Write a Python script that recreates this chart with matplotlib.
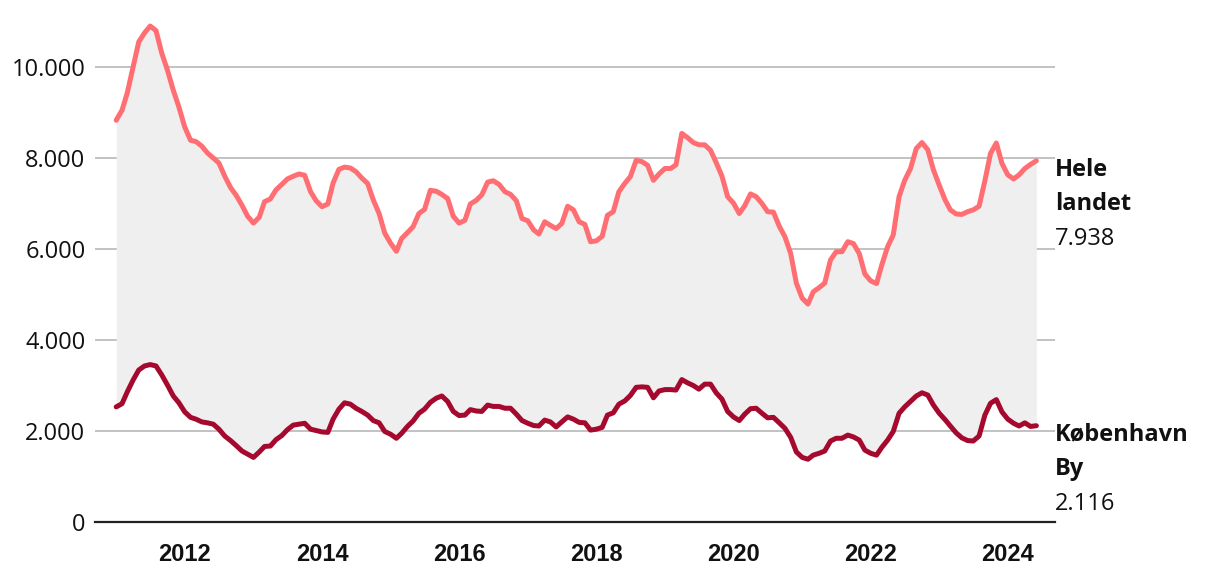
import matplotlib
matplotlib.use("Agg")
import matplotlib.pyplot as plt
import matplotlib.dates as mdates
from matplotlib.ticker import FuncFormatter
import pandas as pd

# monthly values, Jan 2011 - Jun 2024
dates = pd.date_range("2011-01-01", "2024-06-01", freq="MS")

hele_landet = [
    8830, 9050, 9430, 10000, 10550, 10750, 10900, 10800, 10300, 9930, 9490, 9120,
    8680, 8390, 8360, 8260, 8110, 8000, 7890, 7600, 7350, 7180, 6960, 6720,
    6570, 6700, 7040, 7100, 7300, 7420, 7540, 7600, 7650, 7620, 7260, 7060,
    6930, 6990, 7450, 7750, 7800, 7780, 7700, 7560, 7440, 7080, 6780, 6350,
    6130, 5950, 6230, 6360, 6490, 6780, 6870, 7290, 7270, 7200, 7110, 6720,
    6570, 6630, 6990, 7070, 7190, 7470, 7500, 7420, 7260, 7200, 7060, 6670,
    6620, 6420, 6330, 6600, 6520, 6450, 6560, 6940, 6860, 6600, 6540, 6160,
    6180, 6280, 6740, 6820, 7260, 7440, 7590, 7950, 7920, 7840, 7510, 7650,
    7770, 7770, 7850, 8540, 8450, 8340, 8290, 8290, 8170, 7900, 7600, 7150,
    7010, 6780, 6950, 7210, 7150, 7000, 6820, 6810, 6500, 6270, 5900, 5250,
    4920, 4790, 5060, 5150, 5250, 5760, 5940, 5940, 6160, 6120, 5900, 5450,
    5300, 5240, 5650, 6050, 6310, 7150, 7510, 7770, 8210, 8340, 8180, 7740,
    7400, 7080, 6860, 6770, 6760, 6820, 6860, 6940, 7500, 8100, 8330, 7880,
    7630, 7540, 7630, 7770, 7860, 7938,
]

koebenhavn_by = [
    2530, 2600, 2860, 3120, 3340, 3430, 3460, 3430, 3230, 3010, 2770, 2620,
    2420, 2300, 2260, 2200, 2180, 2150, 2040, 1890, 1790, 1680, 1560, 1490,
    1420, 1540, 1660, 1670, 1810, 1900, 2030, 2130, 2150, 2170, 2040, 2010,
    1980, 1970, 2260, 2480, 2620, 2590, 2500, 2430, 2350, 2230, 2180, 1990,
    1930, 1840, 1950, 2100, 2220, 2390, 2480, 2630, 2720, 2770, 2650, 2430,
    2340, 2350, 2470, 2440, 2430, 2570, 2540, 2540, 2500, 2500, 2370, 2230,
    2170, 2120, 2110, 2240, 2200, 2090, 2200, 2310, 2260, 2190, 2180, 2020,
    2040, 2080, 2350, 2400, 2590, 2660, 2780, 2960, 2970, 2960, 2730, 2880,
    2910, 2910, 2900, 3130, 3060, 3000, 2920, 3030, 3030, 2840, 2700, 2430,
    2310, 2230, 2370, 2490, 2500, 2390, 2290, 2300, 2180, 2060, 1860, 1540,
    1420, 1380, 1470, 1510, 1560, 1780, 1840, 1840, 1910, 1870, 1800, 1580,
    1510, 1470, 1640, 1800, 1990, 2390, 2530, 2650, 2770, 2840, 2790, 2570,
    2390, 2250, 2110, 1960, 1850, 1790, 1780, 1890, 2350, 2610, 2690, 2420,
    2260, 2170, 2110, 2180, 2100, 2116,
]

series_names = [("Hele", "landet"), ("København", "By")]
y_ticks = [0, 2000, 4000, 6000, 8000, 10000]
x_tick_years = [2012, 2014, 2016, 2018, 2020, 2022, 2024]

C_UPPER = "#ff6e72"
C_LOWER = "#a50a2e"
C_FILL = "#efefef"
C_GRID = "#c2c2c2"

fig = plt.figure(figsize=(12.2, 5.72), dpi=100)
ax = fig.add_axes([0.078, 0.0874, 0.787, 0.875])

ax.fill_between(dates, koebenhavn_by, hele_landet, color=C_FILL, linewidth=0, zorder=1)
ax.plot(dates, hele_landet, color=C_UPPER, linewidth=3.6, solid_joinstyle="round",
        solid_capstyle="round", zorder=3)
ax.plot(dates, koebenhavn_by, color=C_LOWER, linewidth=3.6, solid_joinstyle="round",
        solid_capstyle="round", zorder=3)

ax.set_xlim(pd.Timestamp("2010-09-11"), pd.Timestamp("2024-09-10"))
ax.set_ylim(0, 11000)

ax.set_yticks(y_ticks)
ax.yaxis.set_major_formatter(FuncFormatter(lambda v, p: f"{int(v):,}".replace(",", ".")))
ax.set_xticks([pd.Timestamp(f"{y}-01-01") for y in x_tick_years])
ax.xaxis.set_major_formatter(mdates.DateFormatter("%Y"))

ax.grid(axis="y", color=C_GRID, linewidth=1.4, zorder=0)
ax.set_axisbelow(True)
for s in ["top", "right", "left"]:
    ax.spines[s].set_visible(False)
ax.spines["bottom"].set_color("#222222")
ax.spines["bottom"].set_linewidth(1.6)
ax.spines["bottom"].set_zorder(4)

ax.tick_params(axis="both", length=0)
ax.tick_params(axis="y", pad=7)
ax.tick_params(axis="x", pad=15)
for lab in ax.get_yticklabels():
    lab.set_fontfamily("Open Sans")
    lab.set_fontsize(17)
    lab.set_color("#111111")
for lab in ax.get_xticklabels():
    lab.set_fontfamily("Liberation Sans")
    lab.set_fontweight("bold")
    lab.set_fontsize(17)
    lab.set_color("#111111")

# end labels
for (name1, name2), values in zip(series_names, [hele_landet, koebenhavn_by]):
    last = values[-1]
    xy = (dates[-1], last)
    offsets = [(-9, name1, "bold"), (-43, name2, "bold"), (-78, f"{last:,}".replace(",", "."), "normal")]
    for dy, txt, weight in offsets:
        ax.annotate(txt, xy=xy, xytext=(19, dy), textcoords="offset pixels",
                    ha="left", va="center", fontsize=17, fontweight=weight,
                    fontfamily="Open Sans", color="#111111", annotation_clip=False)

fig.savefig("out.png", dpi=100)
